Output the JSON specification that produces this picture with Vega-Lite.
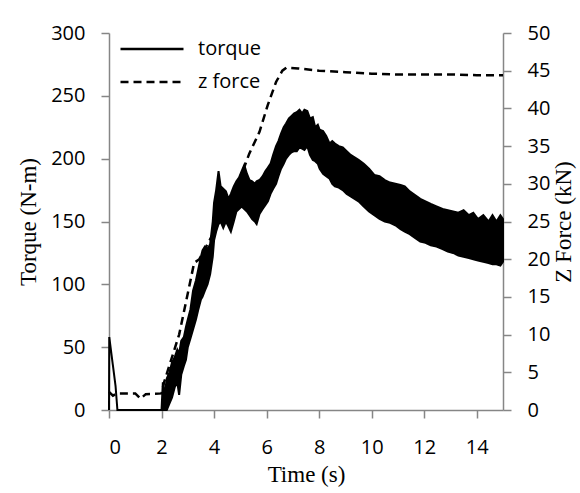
{
  "$schema": "https://vega.github.io/schema/vega-lite/v6.json",
  "width": 394,
  "height": 377,
  "autosize": {"type": "none"},
  "padding": {"left": 109, "top": 33, "right": 77, "bottom": 83},
  "background": "white",
  "config": {
    "view": {"stroke": null},
    "axis": {
      "grid": false,
      "domainColor": "#868686",
      "tickColor": "#868686",
      "domainWidth": 1.5,
      "tickWidth": 1.5,
      "tickSize": 8,
      "labelFont": "Open Sans",
      "labelFontSize": 20,
      "labelColor": "black",
      "titleFont": "Liberation Serif",
      "titleFontSize": 23,
      "titleFontWeight": "normal",
      "titleColor": "black"
    }
  },
  "datasets": {
    "band": [
      {"t": 2.0, "lo": 0, "hi": 0},
      {"t": 2.05, "lo": 0, "hi": 22},
      {"t": 2.12, "lo": 0, "hi": 12},
      {"t": 2.2, "lo": 0, "hi": 25},
      {"t": 2.3, "lo": 5, "hi": 30},
      {"t": 2.4, "lo": 10, "hi": 38},
      {"t": 2.5, "lo": 18, "hi": 42},
      {"t": 2.6, "lo": 22, "hi": 48},
      {"t": 2.67, "lo": 12, "hi": 45},
      {"t": 2.75, "lo": 28, "hi": 55},
      {"t": 2.85, "lo": 35, "hi": 58},
      {"t": 2.93, "lo": 40, "hi": 66},
      {"t": 3.0, "lo": 50, "hi": 72},
      {"t": 3.1, "lo": 57, "hi": 80},
      {"t": 3.2, "lo": 64, "hi": 95},
      {"t": 3.31, "lo": 72, "hi": 103},
      {"t": 3.4, "lo": 80, "hi": 112},
      {"t": 3.5, "lo": 88, "hi": 122},
      {"t": 3.56, "lo": 90, "hi": 127},
      {"t": 3.65, "lo": 95, "hi": 130},
      {"t": 3.75, "lo": 100, "hi": 128},
      {"t": 3.85, "lo": 108, "hi": 132},
      {"t": 3.95, "lo": 122, "hi": 150},
      {"t": 4.0, "lo": 135, "hi": 165},
      {"t": 4.08, "lo": 142, "hi": 175},
      {"t": 4.17, "lo": 148, "hi": 190},
      {"t": 4.25, "lo": 150, "hi": 178},
      {"t": 4.35, "lo": 145, "hi": 176},
      {"t": 4.45, "lo": 150, "hi": 174},
      {"t": 4.55, "lo": 146, "hi": 168},
      {"t": 4.64, "lo": 142, "hi": 172},
      {"t": 4.75, "lo": 150, "hi": 178},
      {"t": 4.85, "lo": 158, "hi": 182},
      {"t": 4.95, "lo": 160, "hi": 185},
      {"t": 5.05, "lo": 162, "hi": 190},
      {"t": 5.15, "lo": 160, "hi": 195},
      {"t": 5.25, "lo": 158, "hi": 188},
      {"t": 5.35, "lo": 155, "hi": 183},
      {"t": 5.45, "lo": 152, "hi": 182},
      {"t": 5.55, "lo": 150, "hi": 180},
      {"t": 5.62, "lo": 148, "hi": 182},
      {"t": 5.73, "lo": 156, "hi": 183},
      {"t": 5.85, "lo": 160, "hi": 186},
      {"t": 5.95, "lo": 163, "hi": 190},
      {"t": 6.05, "lo": 166, "hi": 193},
      {"t": 6.15, "lo": 172, "hi": 196},
      {"t": 6.25, "lo": 176, "hi": 203},
      {"t": 6.36, "lo": 180, "hi": 210},
      {"t": 6.45, "lo": 186, "hi": 214},
      {"t": 6.55, "lo": 192, "hi": 220},
      {"t": 6.65, "lo": 196, "hi": 225},
      {"t": 6.74, "lo": 200, "hi": 228},
      {"t": 6.85, "lo": 203, "hi": 232},
      {"t": 6.95, "lo": 205, "hi": 234},
      {"t": 7.05, "lo": 206, "hi": 236},
      {"t": 7.15, "lo": 206, "hi": 237},
      {"t": 7.25, "lo": 209, "hi": 239},
      {"t": 7.35, "lo": 208, "hi": 236},
      {"t": 7.44, "lo": 207, "hi": 239},
      {"t": 7.55, "lo": 210, "hi": 238},
      {"t": 7.65, "lo": 203, "hi": 232},
      {"t": 7.76, "lo": 199, "hi": 233},
      {"t": 7.85, "lo": 198, "hi": 225},
      {"t": 7.95, "lo": 196, "hi": 227},
      {"t": 8.02, "lo": 192, "hi": 223},
      {"t": 8.15, "lo": 188, "hi": 222},
      {"t": 8.27, "lo": 186, "hi": 218},
      {"t": 8.4, "lo": 184, "hi": 212},
      {"t": 8.5, "lo": 180, "hi": 214},
      {"t": 8.6, "lo": 178, "hi": 212},
      {"t": 8.75, "lo": 177, "hi": 210},
      {"t": 8.9, "lo": 175, "hi": 209},
      {"t": 9.05, "lo": 172, "hi": 206},
      {"t": 9.2, "lo": 170, "hi": 203},
      {"t": 9.35, "lo": 168, "hi": 201},
      {"t": 9.5, "lo": 166, "hi": 199},
      {"t": 9.7, "lo": 162, "hi": 196},
      {"t": 9.9, "lo": 158, "hi": 192},
      {"t": 10.1, "lo": 155, "hi": 187},
      {"t": 10.3, "lo": 152, "hi": 186},
      {"t": 10.5, "lo": 150, "hi": 183},
      {"t": 10.7, "lo": 149, "hi": 181},
      {"t": 10.9, "lo": 147, "hi": 180},
      {"t": 11.1, "lo": 144, "hi": 179},
      {"t": 11.26, "lo": 142, "hi": 178},
      {"t": 11.45, "lo": 140, "hi": 174},
      {"t": 11.65, "lo": 137, "hi": 171},
      {"t": 11.85, "lo": 134, "hi": 168},
      {"t": 12.05, "lo": 133, "hi": 166},
      {"t": 12.25, "lo": 131, "hi": 164},
      {"t": 12.47, "lo": 130, "hi": 162},
      {"t": 12.7, "lo": 128, "hi": 160},
      {"t": 12.9, "lo": 126, "hi": 159},
      {"t": 13.1, "lo": 125, "hi": 158},
      {"t": 13.3, "lo": 123, "hi": 157},
      {"t": 13.5, "lo": 122, "hi": 159},
      {"t": 13.7, "lo": 121, "hi": 155},
      {"t": 13.87, "lo": 120, "hi": 157},
      {"t": 14.05, "lo": 119, "hi": 152},
      {"t": 14.25, "lo": 118, "hi": 155},
      {"t": 14.45, "lo": 117, "hi": 150},
      {"t": 14.6, "lo": 116, "hi": 155},
      {"t": 14.75, "lo": 116, "hi": 150},
      {"t": 14.9, "lo": 115, "hi": 155},
      {"t": 15.0, "lo": 118, "hi": 152}
    ],
    "torque": [
      {"t": 0, "torque": 0},
      {"t": 0.01, "torque": 58},
      {"t": 0.25, "torque": 19},
      {"t": 0.32, "torque": 0},
      {"t": 2.0, "torque": 0}
    ],
    "zforce": [
      {"t": 0, "force": 2.4},
      {"t": 0.15, "force": 1.9},
      {"t": 0.3, "force": 2.2},
      {"t": 1.0, "force": 2.2},
      {"t": 1.2, "force": 1.5},
      {"t": 1.4, "force": 2.1},
      {"t": 2.0, "force": 2.2},
      {"t": 2.1, "force": 3.7},
      {"t": 2.67, "force": 10.0},
      {"t": 3.05, "force": 16.3},
      {"t": 3.24, "force": 19.5},
      {"t": 3.44, "force": 20.0},
      {"t": 4.0, "force": 23.6},
      {"t": 4.5, "force": 27.2},
      {"t": 5.0, "force": 30.8},
      {"t": 5.34, "force": 34.0},
      {"t": 5.73, "force": 36.9},
      {"t": 6.04, "force": 40.4},
      {"t": 6.36, "force": 43.5},
      {"t": 6.6, "force": 45.0},
      {"t": 6.75, "force": 45.4},
      {"t": 7.2, "force": 45.3},
      {"t": 8.0, "force": 45.0},
      {"t": 9.0, "force": 44.8},
      {"t": 10.0, "force": 44.6},
      {"t": 11.0, "force": 44.5},
      {"t": 12.0, "force": 44.5},
      {"t": 13.0, "force": 44.5},
      {"t": 14.0, "force": 44.4},
      {"t": 15.0, "force": 44.4}
    ]
  },
  "layer": [
    {
      "layer": [
        {
          "data": {"name": "band"},
          "mark": {"type": "area", "color": "black", "stroke": "black", "strokeWidth": 2, "strokeJoin": "miter"},
          "encoding": {
            "x": {"field": "t", "type": "quantitative", "scale": {"domain": [0, 15], "nice": false},
              "axis": {"title": "Time (s)", "values": [0, 2, 4, 6, 8, 10, 12, 14], "labelPadding": 19, "titlePadding": 6}},
            "y": {"field": "lo", "type": "quantitative", "scale": {"domain": [0, 300], "nice": false},
              "axis": {"title": "Torque (N-m)", "values": [0, 50, 100, 150, 200, 250, 300], "labelPadding": 16, "titlePadding": 10}},
            "y2": {"field": "hi"}
          }
        },
        {
          "data": {"name": "torque"},
          "mark": {"type": "line", "color": "black", "strokeWidth": 2},
          "encoding": {
            "x": {"field": "t", "type": "quantitative"},
            "y": {"field": "torque", "type": "quantitative"},
            "strokeDash": {
              "datum": "torque",
              "scale": {"domain": ["torque", "z force"], "range": [[1, 0], [8, 5]]},
              "legend": {
                "title": null,
                "orient": "none",
                "legendX": 31,
                "legendY": 4,
                "padding": 0,
                "symbolType": "M-3,0H3",
                "symbolSize": 441,
                "symbolStrokeWidth": 2.5,
                "symbolStrokeColor": "black",
                "labelFont": "Open Sans",
                "labelFontSize": 20,
                "labelColor": "black",
                "labelOffset": 34,
                "rowPadding": 11
              }
            }
          }
        }
      ]
    },
    {
      "data": {"name": "zforce"},
      "mark": {"type": "line", "color": "black", "strokeWidth": 2.5},
      "encoding": {
        "x": {"field": "t", "type": "quantitative"},
        "y": {"field": "force", "type": "quantitative", "scale": {"domain": [0, 50], "nice": false},
          "axis": {"orient": "right", "title": "Z Force (kN)", "titleAngle": 270, "titleBaseline": "top", "values": [0, 5, 10, 15, 20, 25, 30, 35, 40, 45, 50], "labelPadding": 16, "titlePadding": 3}},
        "strokeDash": {"datum": "z force"}
      }
    }
  ],
  "resolve": {"scale": {"y": "independent"}}
}
